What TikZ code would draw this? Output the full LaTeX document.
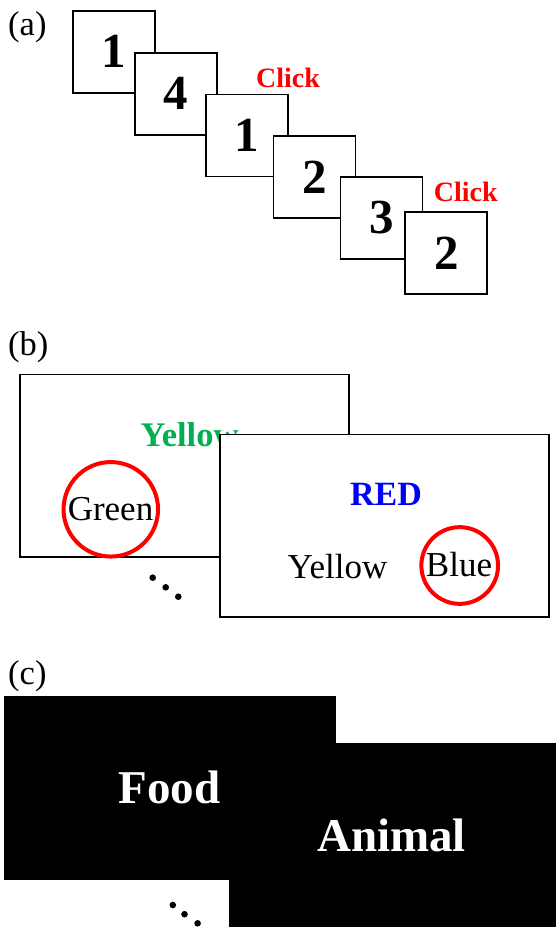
\documentclass[tikz,border=0pt]{standalone}
\usepackage{fontspec}
\setmainfont{Liberation Serif}
\definecolor{wordgreen}{RGB}{0,176,80}
\definecolor{wordblue}{RGB}{0,0,255}
\definecolor{markred}{RGB}{255,0,0}
\begin{document}
\begin{tikzpicture}[x=1pt,y=-1pt,
  fs/.style={font=\fontsize{#1}{#1}\selectfont},
  fsb/.style={font=\fontsize{#1}{#1}\selectfont\bfseries},
  tag/.style={fs=34.5, anchor=base west, inner sep=0pt},
  sqbox/.style={draw=black, fill=white, line width=1.8pt, minimum width=82pt,
    minimum height=82pt, inner sep=0pt, fsb=49},
  clicklbl/.style={fsb=28, text=markred, anchor=base, inner sep=0pt},
  panel/.style={draw=black, fill=white, line width=1.5pt, inner sep=0pt,
    minimum width=329pt, minimum height=182.5pt},
  darkpanel/.style={fill=black, inner sep=0pt},
  word/.style={fs=35, anchor=base, inner sep=0pt},
  ring/.style={circle, draw=markred, line width=4pt, inner sep=0pt},
  dotmark/.style={circle, fill=black, inner sep=0pt, minimum size=6.6pt}]
\useasboundingbox (0,0) rectangle (555,929);

% ---------------- (a) sequence of digit cards ----------------
\node[tag] (ta) at (8,35.6) {(a)};
\node[sqbox] (s1) at (114.2,51.8)  {1};
\node[sqbox] (s2) at (176.2,93.7)  {4};
\node[sqbox] (s3) at (247.0,135.5) {1};
\node[sqbox] (s4) at (314.5,176.8) {2};
\node[sqbox] (s5) at (381.5,218.0) {3};
\node[sqbox] (s6) at (446.3,253.3) {2};
\node[clicklbl] (c1) at (288,87.3)    {Click};
\node[clicklbl] (c2) at (465.7,201.7) {Click};

% ---------------- (b) colour-word screens ----------------
\node[tag] (tb) at (8,355.6) {(b)};
\node[panel] (b1) at (184.5,465.9) {};
\node[fsb=34.5, text=wordgreen, anchor=base west, inner sep=0pt] (y1) at (140.5,446.5) {Yellow};
\node[word] (g1) at (110.5,520) {Green};
\node[ring, minimum size=94.5pt] (r1) at (110.8,509.3) {};
\node[panel] (b2) at (384.7,525.8) {};
\node[fsb=34, text=wordblue, anchor=base, inner sep=0pt] (rd) at (386,505) {RED};
\node[word] (y2) at (337.5,578) {Yellow};
\node[word] (bl) at (459,576.7) {Blue};
\node[ring, minimum size=76.7pt] (r2) at (459.7,565.5) {};
\node[dotmark] (bd1) at (152.7,577.7) {};
\node[dotmark] (bd2) at (165.7,587.3) {};
\node[dotmark] (bd3) at (178.3,596.7) {};

% ---------------- (c) category screens ----------------
\node[tag] (tc) at (8,684.5) {(c)};
\path[darkpanel] (4,696) rectangle (336,880);
\node[fsb=47, text=white, anchor=base, inner sep=0pt] (fd) at (169.5,803.3) {Food};
\path[darkpanel] (229,743.3) rectangle (556,927.3);
\node[fsb=47, text=white, anchor=base, inner sep=0pt] (an) at (391.5,851.7) {Animal};
\node[dotmark] (cd1) at (172.8,905.0) {};
\node[dotmark] (cd2) at (184.5,914.2) {};
\node[dotmark] (cd3) at (197.6,923.3) {};
\end{tikzpicture}
\end{document}
